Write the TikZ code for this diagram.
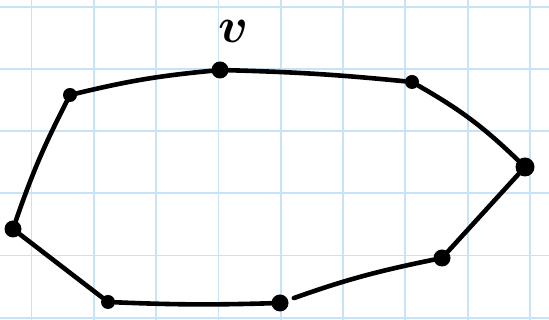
\documentclass[tikz,border=0pt]{standalone}
\usepackage{graphicx}
\usepackage{tikz}
\definecolor{gridblue}{RGB}{198,228,246}
\tikzset{
  gridline/.style={draw=gridblue, line width=1.8pt},
  dot/.style={circle, fill=black, inner sep=0pt, minimum size=14pt},
  link/.style={line width=4.6pt, line cap=round}
}
\begin{document}
\begin{tikzpicture}[x=1pt, y=1pt]
  \useasboundingbox (0,0) rectangle (549,320);
  \fill[white] (0,0) rectangle (549,320);
  % squared paper
  \foreach \i in {0,...,8} \draw[gridline] ({31.5+62.3*\i},0) -- ++(0,320);
  \foreach \j in {0,...,5} \draw[gridline] (0,{313.3-62.2*\j}) -- ++(549,0);
  % the cycle, vertex v on top
  \node[dot] (a) at (70,225) {};
  \node[dot, minimum size=17pt] (b) at (220,250) {};
  \node[dot] (c) at (412,238) {};
  \node[dot, minimum size=19pt] (d) at (525,153) {};
  \node[dot, minimum size=17pt] (e) at (442,62) {};
  \node[dot, minimum size=17pt] (f) at (280,17) {};
  \node[dot] (g) at (108,18) {};
  \node[dot, minimum size=17pt] (h) at (13,91) {};
  \node[inner sep=0pt] (vlab) at (234,289) {\scalebox{2.4}{\huge\boldmath$v$}};
  \draw[link] (a) to[bend left=4] (b);
  \draw[link] (b) to[bend left=2] (c);
  \draw[link] (c) to[bend left=7] (d);
  \draw[link] (d) -- (e);
  \draw[link, shorten >=6pt] (e) to[bend right=4] (f);
  \draw[link] (f) to[bend left=2] (g);
  \draw[link] (g) -- (h);
  \draw[link] (h) to[bend left=4] (a);
\end{tikzpicture}
\end{document}
